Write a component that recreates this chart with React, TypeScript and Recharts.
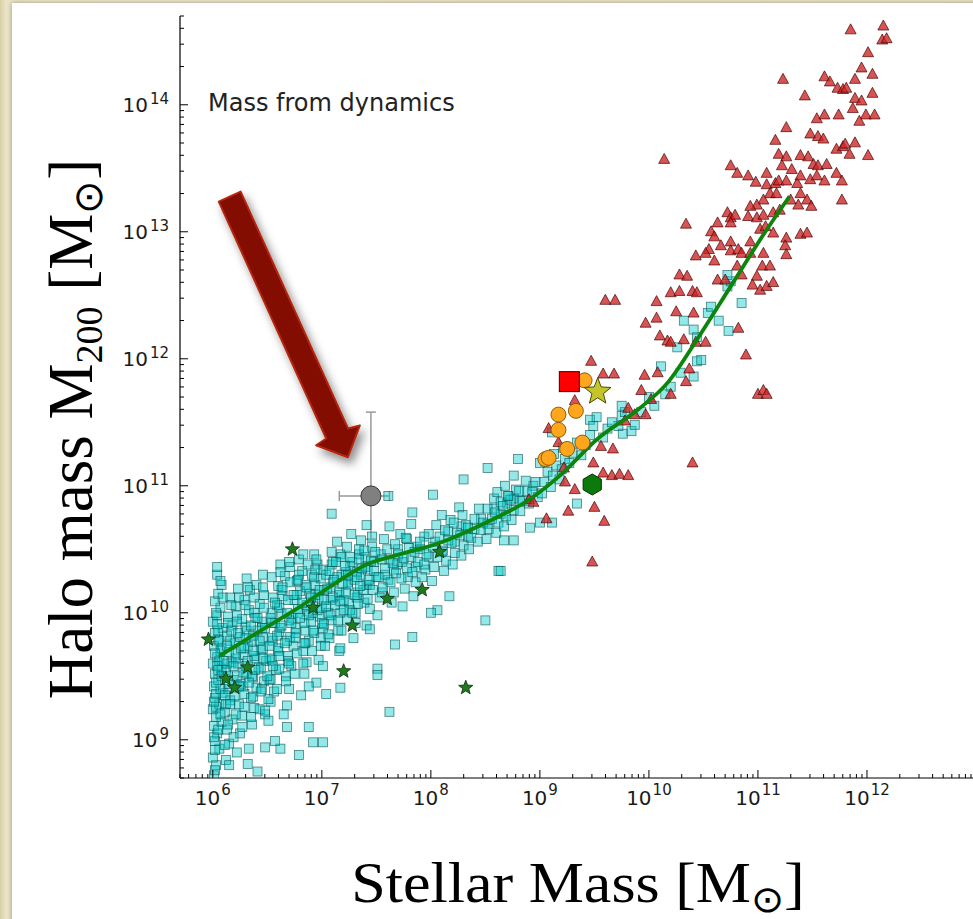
import React from 'react'
import { ScatterChart, Scatter, XAxis, YAxis, ErrorBar, ReferenceLine } from 'recharts'

// all values are log10 masses [log M*, log M200]

// simulated galaxies (cyan squares), low-mass end
const simDwarfs: [number, number][] = [
  [6.01, 8.72], [6.03, 8.8], [6.0, 8.86], [6.06, 8.93], [6.02, 8.99], [6.04, 9.05], [6.01, 9.11], [6.08, 9.14],
  [6.03, 9.18], [6.0, 9.24], [6.06, 9.28], [6.02, 9.33], [6.09, 9.37], [6.01, 9.42], [6.05, 9.47], [6.02, 9.52],
  [6.08, 9.56], [6.0, 9.6], [6.04, 9.65], [6.07, 9.7], [6.01, 9.74], [6.05, 9.79], [6.02, 9.84], [6.09, 9.88],
  [6.0, 9.93], [6.04, 9.98], [6.07, 10.04], [6.02, 10.09], [6.05, 10.15], [6.08, 10.22], [6.04, 10.3], [6.01, 9.02],
  [6.03, 9.36], [6.06, 9.62], [6.02, 8.76],
  [6.12, 8.84], [6.15, 8.97], [6.13, 9.08], [6.18, 9.16], [6.11, 9.22], [6.16, 9.31], [6.14, 9.4], [6.19, 9.47],
  [6.12, 9.55], [6.17, 9.61], [6.15, 9.69], [6.2, 9.76], [6.13, 9.82], [6.18, 9.9], [6.14, 9.97], [6.21, 10.05],
  [6.16, 10.12], [6.23, 10.19], [6.25, 9.05], [6.27, 9.19], [6.24, 9.28], [6.29, 9.36], [6.26, 9.44], [6.31, 9.52],
  [6.23, 9.6], [6.28, 9.67], [6.32, 9.74], [6.25, 9.81], [6.3, 9.89], [6.27, 9.95], [6.33, 10.02], [6.29, 10.1],
  [6.34, 10.18], [6.31, 10.27], [6.36, 9.12], [6.38, 9.25], [6.35, 9.33], [6.4, 9.41], [6.37, 9.49], [6.42, 9.57],
  [6.39, 9.64], [6.44, 9.71], [6.36, 9.78], [6.41, 9.86], [6.45, 9.93], [6.38, 10.0], [6.43, 10.07], [6.47, 10.14],
  [6.4, 10.22], [6.46, 10.3], [6.48, 9.2], [6.47, 9.46], [6.49, 9.62], [6.46, 9.8], [6.33, 8.93],
  [6.51, 9.15], [6.53, 9.3], [6.56, 9.38], [6.52, 9.47], [6.58, 9.55], [6.54, 9.63], [6.6, 9.7], [6.55, 9.78],
  [6.61, 9.85], [6.57, 9.92], [6.63, 9.99], [6.59, 10.06], [6.64, 10.13], [6.6, 10.21], [6.66, 10.29], [6.62, 10.38],
  [6.68, 9.27], [6.7, 9.4], [6.67, 9.5], [6.72, 9.58], [6.69, 9.66], [6.74, 9.74], [6.71, 9.81], [6.76, 9.88],
  [6.73, 9.96], [6.78, 10.03], [6.75, 10.1], [6.8, 10.17], [6.77, 10.25], [6.82, 10.33], [6.79, 10.42], [6.81, 9.35],
  [6.84, 9.52], [6.86, 9.61], [6.83, 9.7], [6.88, 9.78], [6.85, 9.86], [6.9, 9.93], [6.87, 10.01], [6.92, 10.08],
  [6.89, 10.15], [6.94, 10.22], [6.91, 10.3], [6.96, 10.38], [6.93, 10.46], [6.95, 9.45], [6.97, 9.63], [6.99, 9.8],
  [6.98, 9.97], [6.97, 10.12], [6.99, 10.27], [6.65, 9.2], [6.88, 9.42], [6.54, 10.0], [6.71, 10.36],
]

// simulated galaxies, crowded core of the band
const simCore: [number, number][] = [
  [6.03, 9.45], [6.05, 9.55], [6.02, 9.68], [6.06, 9.78], [6.04, 9.91], [6.08, 9.5], [6.01, 9.3], [6.07, 9.2],
  [6.1, 9.62], [6.13, 9.74], [6.11, 9.35], [6.14, 9.5], [6.17, 9.86], [6.16, 9.28], [6.19, 9.58], [6.21, 9.68],
  [6.22, 9.93], [6.24, 9.42], [6.26, 9.72], [6.28, 9.53], [6.3, 9.8], [6.32, 9.62], [6.33, 9.45], [6.35, 9.9],
  [6.37, 9.7], [6.39, 9.55], [6.41, 9.96], [6.43, 9.78], [6.44, 9.38], [6.46, 9.64], [6.48, 9.88], [6.5, 9.5],
  [6.52, 9.74], [6.54, 9.92], [6.55, 9.58], [6.57, 10.08], [6.59, 9.82], [6.61, 9.66], [6.63, 9.9], [6.64, 10.2],
  [6.66, 9.76], [6.68, 10.0], [6.7, 9.6], [6.72, 9.92], [6.74, 10.14], [6.76, 9.8], [6.78, 10.26], [6.8, 9.96],
  [6.82, 10.08], [6.84, 9.76], [6.86, 10.2], [6.88, 9.98], [6.9, 10.12], [6.92, 9.86], [6.94, 10.34], [6.96, 10.02],
  [6.98, 10.18], [7.0, 9.92], [7.02, 10.1], [7.04, 10.3], [7.06, 10.0], [7.08, 10.2], [7.1, 10.4], [7.12, 10.06],
  [7.14, 10.28], [7.16, 10.16], [7.18, 10.44], [7.2, 10.1], [7.22, 10.32], [7.24, 10.22], [7.26, 10.02], [7.28, 10.4],
  [7.3, 10.26], [7.32, 10.12], [7.34, 10.5], [7.36, 10.3], [7.38, 10.18], [7.4, 10.44], [7.42, 10.34], [7.44, 10.22],
  [7.46, 10.52], [7.48, 10.4], [7.5, 10.28], [7.54, 10.46], [7.58, 10.3], [7.62, 10.42], [7.66, 10.34], [7.7, 10.5],
  [7.74, 10.4], [7.78, 10.58], [7.82, 10.44], [7.86, 10.36], [7.9, 10.5], [7.94, 10.6], [7.98, 10.44], [8.04, 10.56],
  [8.1, 10.48], [8.16, 10.64], [8.22, 10.56], [8.28, 10.68], [8.34, 10.6], [8.4, 10.66], [8.46, 10.74], [8.52, 10.7],
  [8.58, 10.82], [8.64, 10.78], [8.7, 10.86], [8.76, 10.9], [8.82, 10.88], [8.88, 10.96], [8.94, 11.0],
]

// simulated galaxies, second layer of the dense dwarf cloud
const simCloud: [number, number][] = [
  [6.02, 8.92], [6.05, 9.08], [6.03, 9.26], [6.07, 9.4], [6.04, 9.58], [6.08, 9.72], [6.05, 9.86], [6.03, 10.0], [6.09, 10.12],
  [6.11, 8.96], [6.14, 9.12], [6.12, 9.28], [6.15, 9.44], [6.13, 9.6], [6.16, 9.78], [6.14, 9.92], [6.17, 10.06],
  [6.19, 9.02], [6.21, 9.2], [6.2, 9.34], [6.22, 9.5], [6.21, 9.64], [6.23, 9.84], [6.22, 9.98], [6.24, 10.12],
  [6.27, 9.1], [6.29, 9.26], [6.28, 9.42], [6.3, 9.58], [6.29, 9.72], [6.31, 9.86], [6.3, 10.06], [6.32, 10.2],
  [6.35, 9.18], [6.37, 9.34], [6.36, 9.5], [6.38, 9.66], [6.37, 9.82], [6.39, 9.96], [6.38, 10.12],
  [6.43, 9.24], [6.45, 9.4], [6.44, 9.56], [6.46, 9.72], [6.45, 9.88], [6.47, 10.04], [6.46, 10.2],
  [6.51, 9.32], [6.53, 9.48], [6.52, 9.64], [6.54, 9.8], [6.53, 9.96], [6.55, 10.12], [6.54, 10.28],
  [6.59, 9.4], [6.61, 9.56], [6.6, 9.72], [6.62, 9.88], [6.61, 10.04], [6.63, 10.18], [6.62, 10.32],
  [6.67, 9.46], [6.69, 9.62], [6.68, 9.78], [6.7, 9.94], [6.69, 10.1], [6.71, 10.24], [6.7, 10.4],
  [6.75, 9.52], [6.77, 9.68], [6.76, 9.84], [6.78, 10.0], [6.77, 10.14], [6.79, 10.3],
  [6.83, 9.6], [6.85, 9.76], [6.84, 9.92], [6.86, 10.06], [6.85, 10.22], [6.87, 10.38],
  [6.91, 9.7], [6.93, 9.84], [6.92, 10.0], [6.94, 10.14], [6.93, 10.28], [6.95, 10.42],
  [6.99, 9.74], [7.01, 9.88], [7.0, 10.04], [7.02, 10.18], [7.01, 10.34],
  [7.07, 9.8], [7.09, 9.94], [7.08, 10.1], [7.1, 10.24], [7.09, 10.38],
  [7.15, 9.86], [7.17, 10.0], [7.16, 10.14], [7.18, 10.3], [7.17, 10.46],
  [7.23, 9.94], [7.25, 10.08], [7.24, 10.24], [7.26, 10.36],
  [7.31, 10.0], [7.33, 10.16], [7.32, 10.32], [7.34, 10.46],
  [7.39, 10.08], [7.41, 10.22], [7.4, 10.36],
  [7.55, 10.16], [7.61, 10.26], [7.69, 10.38], [7.79, 10.28], [7.87, 10.52], [7.95, 10.34],
]

// simulated galaxies, intermediate masses
const simMid: [number, number][] = [
  [7.01, 9.58], [7.03, 9.74], [7.06, 9.83], [7.02, 9.91], [7.08, 9.98], [7.04, 10.05], [7.1, 10.12], [7.05, 10.19],
  [7.11, 10.26], [7.07, 10.33], [7.13, 10.4], [7.09, 10.48], [7.14, 10.56], [7.16, 9.7], [7.18, 9.86], [7.15, 9.94],
  [7.2, 10.02], [7.17, 10.09], [7.22, 10.16], [7.19, 10.23], [7.24, 10.3], [7.21, 10.37], [7.26, 10.44], [7.23, 10.52],
  [7.27, 10.62], [7.29, 9.8], [7.31, 9.92], [7.28, 10.0], [7.33, 10.07], [7.3, 10.14], [7.35, 10.21], [7.32, 10.28],
  [7.37, 10.35], [7.34, 10.42], [7.39, 10.49], [7.36, 10.57], [7.41, 9.9], [7.44, 10.03], [7.42, 10.11], [7.47, 10.18],
  [7.43, 10.26], [7.48, 10.33], [7.45, 10.41], [7.49, 10.48], [7.46, 10.6],
  [7.51, 9.98], [7.53, 10.12], [7.56, 10.2], [7.52, 10.28], [7.58, 10.35], [7.55, 10.42], [7.6, 10.5], [7.57, 10.58],
  [7.62, 10.68], [7.64, 10.08], [7.66, 10.16], [7.63, 10.24], [7.68, 10.31], [7.65, 10.39], [7.7, 10.46], [7.67, 10.54],
  [7.72, 10.62], [7.74, 10.05], [7.76, 10.19], [7.73, 10.27], [7.78, 10.35], [7.75, 10.43], [7.8, 10.51], [7.77, 10.59],
  [7.82, 10.7], [7.84, 10.13], [7.86, 10.24], [7.83, 10.32], [7.88, 10.4], [7.85, 10.48], [7.9, 10.56], [7.92, 10.28],
  [7.94, 10.38], [7.96, 10.46], [7.98, 10.62],
  [8.01, 10.25], [8.03, 10.36], [8.06, 10.44], [8.02, 10.52], [8.08, 10.6], [8.05, 10.69], [8.1, 10.77], [8.12, 10.33],
  [8.14, 10.41], [8.11, 10.49], [8.16, 10.57], [8.13, 10.65], [8.18, 10.73], [8.2, 10.38], [8.22, 10.47], [8.19, 10.55],
  [8.24, 10.63], [8.21, 10.71], [8.26, 10.83], [8.28, 10.45], [8.3, 10.53], [8.27, 10.61], [8.32, 10.69], [8.29, 10.77],
  [8.35, 10.5], [8.37, 10.59], [8.34, 10.67], [8.4, 10.74], [8.43, 10.56], [8.46, 10.65], [8.44, 10.82], [8.48, 10.71],
  [8.51, 10.58], [8.53, 10.66], [8.56, 10.74], [8.52, 10.82], [8.58, 10.9], [8.6, 10.63], [8.62, 10.71], [8.59, 10.79],
  [8.64, 10.87], [8.61, 10.95], [8.67, 10.68], [8.69, 10.76], [8.66, 10.84], [8.71, 10.92], [8.68, 11.0], [8.74, 10.73],
  [8.76, 10.81], [8.73, 10.89], [8.78, 10.97], [8.82, 10.8], [8.84, 10.88], [8.81, 10.96], [8.87, 11.04], [8.9, 10.86],
  [8.93, 10.95], [8.96, 11.03], [8.98, 10.91],
]

// simulated galaxies, massive end
const simMassive: [number, number][] = [
  [9.02, 10.94], [9.04, 11.03], [9.07, 11.11], [9.05, 11.19], [9.1, 10.99], [9.12, 11.08], [9.15, 11.16], [9.13, 11.25],
  [9.18, 11.05], [9.2, 11.13], [9.23, 11.21], [9.21, 11.3], [9.27, 11.18], [9.3, 11.26], [9.34, 11.34], [9.38, 11.24],
  [9.42, 11.32], [9.46, 11.4], [9.46, 11.52], [9.52, 11.54], [9.49, 11.47], [9.62, 11.45], [9.75, 11.55], [9.76, 11.41],
  [9.84, 11.43], [9.87, 11.48], [9.72, 11.47], [9.11, 11.42], [9.58, 11.38], [9.66, 11.5], [9.93, 11.58], [9.78, 11.58],
  [9.75, 11.63], [10.05, 11.63], [10.2, 11.78], [10.29, 11.89], [10.41, 11.86], [10.11, 11.94], [10.44, 11.98],
  [10.48, 11.99], [10.26, 12.09], [10.44, 12.17], [10.41, 12.23], [10.32, 12.3], [10.54, 12.36], [10.64, 12.3],
  [10.57, 12.41], [10.73, 12.22], [10.72, 12.57], [10.75, 12.61], [10.72, 12.66], [10.85, 12.44], [10.0, 11.7], [10.15, 11.72],
]

// simulated galaxies scattered away from the main band
const simOutliers: [number, number][] = [
  [6.04, 10.36], [6.07, 10.25], [6.83, 10.46], [7.09, 10.78], [7.41, 10.69], [7.61, 10.92], [7.83, 10.79], [8.02, 10.93],
  [8.3, 11.05], [8.52, 11.14], [8.8, 11.21], [8.62, 10.33], [8.5, 9.94], [8.06, 10.02], [8.17, 10.13], [7.83, 9.81],
  [7.67, 9.75], [7.62, 9.22], [7.51, 9.56], [7.51, 9.51], [7.44, 9.87], [7.17, 9.72], [7.04, 9.36], [7.17, 9.41],
  [6.92, 8.98], [7.01, 8.98], [6.88, 9.1], [6.79, 8.88], [6.62, 8.93], [6.57, 8.99], [6.48, 8.94], [6.41, 8.75],
  [6.32, 8.81], [6.22, 8.9], [6.15, 8.8], [6.68, 9.1], [6.48, 9.23], [9.0, 11.18], [8.76, 11.08], [8.71, 10.92],
  [9.0, 10.71], [8.91, 10.67], [9.11, 10.71], [9.34, 10.86], [8.76, 10.57], [8.67, 10.57], [8.64, 10.33], [8.0, 10.0],
]

// groups and clusters (red triangles)
const groupsClusters: [number, number][] = [
  [11.85, 14.59], [12.15, 14.62], [12.14, 14.51], [12.18, 14.52], [12.01, 14.41], [11.95, 14.29], [12.05, 14.24],
  [11.23, 14.2], [11.61, 14.22], [11.66, 14.18], [11.73, 14.13], [11.78, 14.12], [11.81, 14.13], [11.89, 14.2],
  [12.05, 14.09], [11.43, 14.07], [11.89, 14.05], [11.95, 14.03], [11.87, 13.97], [11.99, 13.92], [12.07, 13.92],
  [11.54, 13.89], [11.61, 13.92], [11.74, 13.92], [11.93, 13.87], [11.26, 13.82], [11.48, 13.77], [11.55, 13.75],
  [11.6, 13.73], [11.16, 13.72], [11.72, 13.65], [11.78, 13.67], [11.8, 13.69], [11.84, 13.61], [11.89, 13.7],
  [12.01, 13.6], [11.19, 13.61], [11.26, 13.59], [11.39, 13.6], [11.46, 13.59], [11.51, 13.53], [11.55, 13.52],
  [11.63, 13.53], [11.22, 13.52], [11.31, 13.49], [10.75, 13.52], [10.81, 13.46], [10.91, 13.44], [10.98, 13.39],
  [11.08, 13.46], [11.16, 13.38], [11.19, 13.4], [11.26, 13.4], [11.36, 13.38], [11.39, 13.44], [11.48, 13.41],
  [11.54, 13.44], [11.61, 13.4], [11.72, 13.46], [11.77, 13.4], [11.08, 13.37], [11.11, 13.3], [11.17, 13.3],
  [11.3, 13.25], [11.39, 13.3], [11.45, 13.25], [11.49, 13.2], [11.77, 13.25], [11.37, 13.21], [11.05, 13.25],
  [10.99, 13.21], [10.93, 13.2], [10.72, 13.15], [10.75, 13.11], [10.79, 13.13], [10.91, 13.12], [10.99, 13.11],
  [11.05, 13.13], [11.14, 13.15], [11.2, 13.17], [10.34, 13.06], [10.63, 13.07], [10.75, 13.07], [10.57, 13.0],
  [10.6, 12.96], [11.02, 13.02], [11.07, 13.04], [11.14, 12.99], [11.26, 12.95], [11.39, 12.98], [11.45, 12.99],
  [10.93, 12.92], [10.75, 12.92], [10.66, 12.89], [10.55, 12.86], [10.43, 12.81], [10.52, 12.83], [10.6, 12.77],
  [10.75, 12.85], [10.82, 12.86], [10.85, 12.83], [10.93, 12.83], [11.05, 12.83], [11.25, 12.89], [11.26, 12.82],
  [10.81, 12.73], [10.85, 12.66], [11.04, 12.73], [11.11, 12.73], [10.99, 12.65], [10.28, 12.66], [10.35, 12.65],
  [10.63, 12.62], [10.7, 12.62], [10.95, 12.58], [11.02, 12.54], [11.08, 12.57], [11.14, 12.6], [10.2, 12.52],
  [10.28, 12.53], [10.4, 12.53], [10.44, 12.52], [9.6, 12.46], [9.69, 12.46], [10.07, 12.45], [10.25, 12.37],
  [10.41, 12.36], [9.97, 12.28], [10.07, 12.32], [10.17, 12.14], [10.2, 12.13], [10.1, 12.18], [10.32, 12.15],
  [10.43, 12.13], [10.52, 12.13], [10.82, 12.24], [10.89, 12.03], [10.14, 13.57], [9.47, 11.98], [9.58, 11.88],
  [9.68, 11.88], [9.96, 11.87], [10.08, 11.89], [10.37, 11.92], [9.93, 11.75], [10.02, 11.68], [10.2, 11.72],
  [10.34, 11.82], [11.0, 11.72], [11.05, 11.75], [11.08, 11.72], [9.81, 11.61], [9.87, 11.56], [9.97, 11.56],
  [9.32, 11.67], [9.78, 11.51], [9.08, 11.45], [9.17, 11.34], [9.56, 11.31], [9.67, 11.29], [9.49, 11.18],
  [9.22, 11.14], [10.4, 11.18], [9.58, 11.1], [9.66, 11.08], [9.73, 11.09], [9.81, 11.08], [9.23, 11.03],
  [9.32, 10.97], [8.9, 10.89], [8.94, 10.87], [9.26, 10.8], [9.5, 10.83], [9.06, 10.74], [9.59, 10.72], [9.48, 10.4],
]

// dwarf galaxies (green stars)
const dwarfStars: [number, number][] = [
  [5.96, 9.79], [6.12, 9.48], [6.2, 9.41], [6.32, 9.57], [6.73, 10.5], [6.92, 10.04],
  [7.28, 9.9], [7.2, 9.54], [7.6, 10.11], [7.92, 10.18], [8.08, 10.48], [8.32, 9.41],
]

// orange circles
const orangeGalaxies: [number, number][] = [
  [9.41, 11.83], [9.17, 11.56], [9.33, 11.59], [9.17, 11.44], [9.39, 11.34], [9.25, 11.29], [9.05, 11.21], [9.08, 11.22],
]

const redSquare: [number, number][] = [[9.27, 11.82]]
const yellowStar: [number, number][] = [[9.53, 11.74]]
const greenHexagon: [number, number][] = [[9.48, 11.01]]

// grey point: centre, then x range and y range of its error bars
const greyPoint: [number, number] = [7.45, 10.92]
const greyXRange: [number, number] = [7.16, 7.62]
const greyYRange: [number, number] = [10.58, 11.58]

// mean relation (green line)
const meanRelation: [number, number][] = [
  [6.06, 9.66], [6.44, 9.86], [6.75, 10.02], [7.1, 10.22], [7.41, 10.38], [7.71, 10.46], [8.08, 10.55], [8.53, 10.72],
  [8.9, 10.89], [9.17, 11.07], [9.53, 11.37], [9.9, 11.6], [10.17, 11.81], [10.44, 12.15], [10.75, 12.57], [11.06, 12.99],
  [11.29, 13.28],
]

// red arrow annotation, tail and head
const arrowTail: [number, number] = [6.155, 13.277]
const arrowHead: [number, number] = [7.239, 11.225]

const xMajorExp = [6, 7, 8, 9, 10, 11, 12]
const yMajorExp = [9, 10, 11, 12, 13, 14]
const X_DOMAIN: [number, number] = [5e5, 1e13]
const Y_DOMAIN: [number, number] = [5e8, 5e14]

const toPoints = (arr: [number, number][]) => arr.map(([a, b]) => ({ x: 10 ** a, y: 10 ** b }))

const logTicks = (lo: number, hi: number) => {
  const out: number[] = []
  for (let e = Math.floor(Math.log10(lo)); e <= Math.ceil(Math.log10(hi)); e++) {
    for (let m = 1; m <= 9; m++) {
      const v = m * 10 ** e
      if (v >= lo && v <= hi) out.push(v)
    }
  }
  return out
}
const xTicks = logTicks(X_DOMAIN[0], X_DOMAIN[1])
const yTicks = logTicks(Y_DOMAIN[0], Y_DOMAIN[1])

const isPow10 = (v: number) => Math.abs(Math.log10(v) - Math.round(Math.log10(v))) < 1e-6

const TICK_FONT = '"DejaVu Sans", sans-serif'

function makeTick(side: 'bottom' | 'top' | 'left' | 'right') {
  return (props: any) => {
    const { x, y, payload } = props
    const isX = side === 'bottom' || side === 'top'
    const major = isPow10(payload.value)
    const e = Math.round(Math.log10(payload.value))
    const showLabel = major && (isX ? xMajorExp : yMajorExp).includes(e)
    const len = major ? 8 : 4
    let line
    if (side === 'bottom') line = <line x1={x} y1={y} x2={x} y2={y - len} stroke="#000" />
    else if (side === 'top') line = <line x1={x} y1={y} x2={x} y2={y + len} stroke="#000" />
    else if (side === 'left') line = <line x1={x} y1={y} x2={x + len} y2={y} stroke="#000" />
    else line = <line x1={x} y1={y} x2={x - len} y2={y} stroke="#000" />
    let label = null
    if (showLabel && side === 'bottom') {
      label = (
        <text x={x} y={y + 27} textAnchor="middle" fontFamily={TICK_FONT} fontSize={20} fill="#1a1a1a" stroke="none">
          <tspan>10</tspan>
          <tspan dy={-10} dx={1} fontSize={15}>{e}</tspan>
        </text>
      )
    } else if (showLabel && side === 'left') {
      label = (
        <text x={x - 11} y={y + 7} textAnchor="end" fontFamily={TICK_FONT} fontSize={20} fill="#1a1a1a" stroke="none">
          <tspan>10</tspan>
          <tspan dy={-8} dx={2} fontSize={15}>{e}</tspan>
        </text>
      )
    }
    return (
      <g>
        {line}
        {label}
      </g>
    )
  }
}

const squareShape = (p: any) => (
  <rect x={p.cx - 4.5} y={p.cy - 4.5} width={9} height={9} fill="rgba(0,200,200,0.42)" stroke="rgba(0,80,80,0.7)" strokeWidth={0.8} />
)
const triangleShape = (p: any) => (
  <polygon
    points={`${p.cx},${p.cy - 6} ${p.cx + 5.5},${p.cy + 4} ${p.cx - 5.5},${p.cy + 4}`}
    fill="rgba(205,35,35,0.78)"
    stroke="rgba(70,0,0,0.85)"
    strokeWidth={0.8}
  />
)
const starPoints = (cx: number, cy: number, R: number, r: number) =>
  Array.from({ length: 10 }, (_, i) => {
    const a = -Math.PI / 2 + (i * Math.PI) / 5
    const rad = i % 2 ? r : R
    return `${cx + rad * Math.cos(a)},${cy + rad * Math.sin(a)}`
  }).join(' ')
const hexPoints = (cx: number, cy: number, R: number) =>
  Array.from({ length: 6 }, (_, i) => {
    const a = -Math.PI / 2 + (i * Math.PI) / 3
    return `${cx + R * Math.cos(a)},${cy + R * Math.sin(a)}`
  }).join(' ')

const greenStarShape = (p: any) => (
  <polygon points={starPoints(p.cx, p.cy, 7.5, 3.2)} fill="#1f7a1f" stroke="#0a300a" strokeWidth={0.8} />
)
const orangeShape = (p: any) => <circle cx={p.cx} cy={p.cy} r={7.5} fill="#ffa61c" stroke="#7a5200" strokeWidth={0.9} />
const redSquareShape = (p: any) => (
  <rect x={p.cx - 10} y={p.cy - 10} width={20} height={20} fill="#ff0000" stroke="#3a0000" strokeWidth={1} />
)
const yellowStarShape = (p: any) => (
  <polygon points={starPoints(p.cx, p.cy, 14, 6)} fill="#c4c42c" stroke="#4a4a00" strokeWidth={1} />
)
const hexShape = (p: any) => <polygon points={hexPoints(p.cx, p.cy, 10.5)} fill="#0b7a0b" stroke="#033003" strokeWidth={1} />
const greyShape = (p: any) => <circle cx={p.cx} cy={p.cy} r={10} fill="#808080" stroke="#333" strokeWidth={1} />
const noShape = () => <g />

function ArrowShape(p: any) {
  const { x1, y1, x2, y2 } = p
  const dx = x2 - x1
  const dy = y2 - y1
  const len = Math.hypot(dx, dy)
  const ux = dx / len
  const uy = dy / len
  const px = -uy
  const py = ux
  const hw = 12
  const headLen = 26
  const headHw = 24
  const bx = x2 - ux * headLen
  const by = y2 - uy * headLen
  const pts = [
    [x1 + px * hw, y1 + py * hw],
    [bx + px * hw, by + py * hw],
    [x2 - ux * 24 + px * headHw, y2 - uy * 24 + py * headHw],
    [x2, y2],
    [x2 - ux * 24 - px * headHw, y2 - uy * 24 - py * headHw],
    [bx - px * hw, by - py * hw],
    [x1 - px * hw, y1 - py * hw],
  ]
    .map((q) => q.join(','))
    .join(' ')
  return (
    <g>
      <defs>
        <filter id="arrowShadow" x="-50%" y="-50%" width="200%" height="200%">
          <feDropShadow dx={4} dy={6} stdDeviation={5} floodColor="#000" floodOpacity={0.45} />
        </filter>
      </defs>
      <polygon points={pts} fill="#830c00" stroke="#b3260f" strokeWidth={2} strokeLinejoin="round" filter="url(#arrowShadow)" />
    </g>
  )
}

const greyData = [
  {
    x: 10 ** greyPoint[0],
    y: 10 ** greyPoint[1],
    ex: [10 ** greyPoint[0] - 10 ** greyXRange[0], 10 ** greyXRange[1] - 10 ** greyPoint[0]],
    ey: [10 ** greyPoint[1] - 10 ** greyYRange[0], 10 ** greyYRange[1] - 10 ** greyPoint[1]],
  },
]

const SERIF = '"Liberation Serif", "Times New Roman", serif'

export default function App() {
  const axisLine = { stroke: '#000', strokeWidth: 1.2 }
  return (
    <div style={{ position: 'fixed', left: 0, top: 0, width: 973, height: 919, overflow: 'hidden', background: 'linear-gradient(90deg, #d9cfa8 0px, #ebe4c8 6px, #efe9d0 40px, #ede6cb 100%)' }}>
      <div style={{ position: 'absolute', left: 12, top: 3, width: 980, height: 940, background: '#fff', boxShadow: '0 0 5px rgba(60,50,20,0.45)' }} />
      <div style={{ position: 'absolute', left: 0, top: 0 }}>
        <ScatterChart width={990} height={919} margin={{ top: 16, right: 14, bottom: 0, left: 0 }}>
          <XAxis
            dataKey="x"
            type="number"
            scale="log"
            domain={X_DOMAIN}
            allowDataOverflow
            ticks={xTicks}
            interval={0}
            tick={makeTick('bottom')}
            tickLine={false}
            tickSize={0}
            tickMargin={0}
            height={141}
            axisLine={axisLine}
          />
          <XAxis
            xAxisId="top"
            orientation="top"
            type="number"
            scale="log"
            domain={X_DOMAIN}
            allowDataOverflow
            ticks={xTicks}
            interval={0}
            tick={makeTick('top')}
            tickLine={false}
            tickSize={0}
            tickMargin={0}
            height={0}
            axisLine={axisLine}
          />
          <YAxis
            dataKey="y"
            type="number"
            scale="log"
            domain={Y_DOMAIN}
            allowDataOverflow
            ticks={yTicks}
            interval={0}
            tick={makeTick('left')}
            tickLine={false}
            tickSize={0}
            tickMargin={0}
            width={180}
            axisLine={axisLine}
          />
          <YAxis
            yAxisId="right"
            orientation="right"
            type="number"
            scale="log"
            domain={Y_DOMAIN}
            allowDataOverflow
            ticks={yTicks}
            interval={0}
            tick={makeTick('right')}
            tickLine={false}
            tickSize={0}
            tickMargin={0}
            width={0}
            axisLine={axisLine}
          />
          <Scatter data={toPoints(simDwarfs)} shape={squareShape} isAnimationActive={false} />
          <Scatter data={toPoints(simCloud)} shape={squareShape} isAnimationActive={false} />
          <Scatter data={toPoints(simCore)} shape={squareShape} isAnimationActive={false} />
          <Scatter data={toPoints(simMid)} shape={squareShape} isAnimationActive={false} />
          <Scatter data={toPoints(simMassive)} shape={squareShape} isAnimationActive={false} />
          <Scatter data={toPoints(simOutliers)} shape={squareShape} isAnimationActive={false} />
          <Scatter data={toPoints(groupsClusters)} shape={triangleShape} isAnimationActive={false} />
          <Scatter
            data={toPoints(meanRelation)}
            line={{ stroke: '#0c850c', strokeWidth: 3.8 }}
            lineType="joint"
            lineJointType="monotoneX"
            shape={noShape}
            isAnimationActive={false}
          />
          <Scatter data={toPoints(dwarfStars)} shape={greenStarShape} isAnimationActive={false} />
          <Scatter data={greyData} shape={greyShape} isAnimationActive={false}>
            <ErrorBar dataKey="ex" direction="x" width={5} stroke="#999" strokeWidth={1.5} />
            <ErrorBar dataKey="ey" direction="y" width={5} stroke="#999" strokeWidth={1.5} />
          </Scatter>
          <Scatter data={toPoints(orangeGalaxies)} shape={orangeShape} isAnimationActive={false} />
          <Scatter data={toPoints(redSquare)} shape={redSquareShape} isAnimationActive={false} />
          <Scatter data={toPoints(yellowStar)} shape={yellowStarShape} isAnimationActive={false} />
          <Scatter data={toPoints(greenHexagon)} shape={hexShape} isAnimationActive={false} />
          <ReferenceLine
            segment={[
              { x: 10 ** arrowTail[0], y: 10 ** arrowTail[1] },
              { x: 10 ** arrowHead[0], y: 10 ** arrowHead[1] },
            ]}
            shape={ArrowShape}
            ifOverflow="visible"
          />
        </ScatterChart>
      </div>
      <svg width={973} height={919} style={{ position: 'absolute', left: 0, top: 0, pointerEvents: 'none' }}>
        <text x={208} y={111} fontFamily={TICK_FONT} fontSize={24} fill="#222">
          Mass from dynamics
        </text>
        <text x={92} y={429} transform="rotate(-90 92 429)" textAnchor="middle" fontFamily={SERIF} fontSize={63} fill="#000">
          Halo mass M<tspan dy={10} fontSize={38}>200</tspan>
          <tspan dy={-10}> [M</tspan>
          <tspan dy={10} fontSize={40}>⊙</tspan>
          <tspan dy={-10}>]</tspan>
        </text>
        <g transform="translate(578 902) scale(1.07 1)">
          <text x={0} y={0} textAnchor="middle" fontFamily={SERIF} fontSize={58} fill="#000">
            Stellar Mass [M<tspan dy={10} fontSize={37}>⊙</tspan>
            <tspan dy={-10}>]</tspan>
          </text>
        </g>
      </svg>
    </div>
  )
}
